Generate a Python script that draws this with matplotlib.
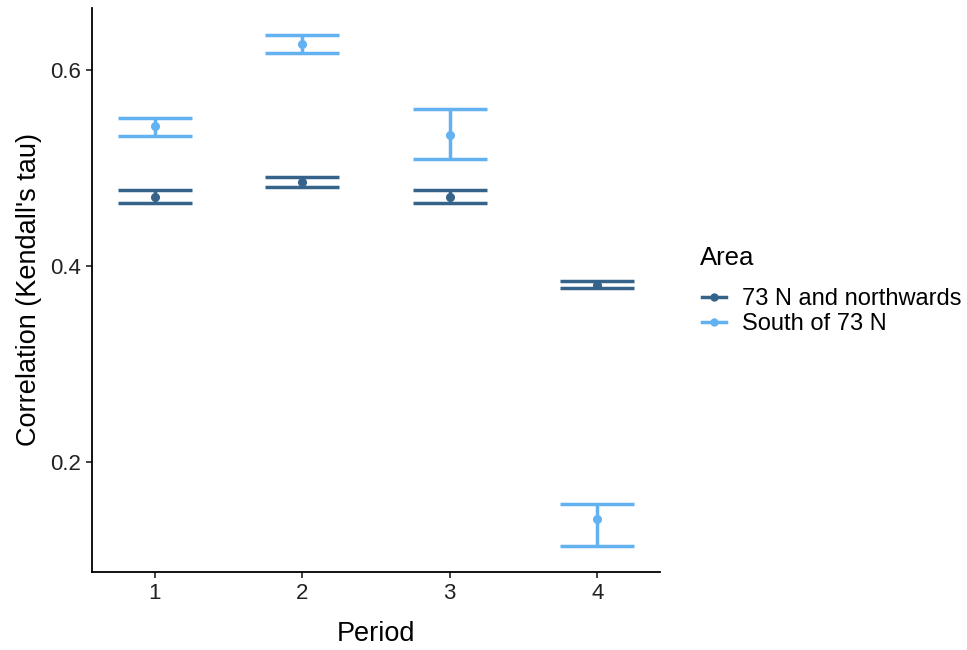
import numpy as np
import matplotlib
matplotlib.use("Agg")
import matplotlib.pyplot as plt
from matplotlib.lines import Line2D

plt.rcParams["font.family"] = ["Liberation Sans", "DejaVu Sans"]

# values
periods = [1, 2, 3, 4]
north_tau = [0.4702, 0.4857, 0.4704, 0.3809]
north_lo = [0.4642, 0.4806, 0.4640, 0.3779]
north_hi = [0.4776, 0.4912, 0.4776, 0.3844]
south_tau = [0.5429, 0.6265, 0.5334, 0.1415]
south_lo = [0.5330, 0.6173, 0.5095, 0.1143]
south_hi = [0.5513, 0.6360, 0.5599, 0.1574]

area_labels = ["73 N and northwards", "South of 73 N"]
colors = ["#36638A", "#62B2F2"]

fig = plt.figure(figsize=(9.67, 6.5), dpi=100)
ax = fig.add_axes([92 / 967, 1 - 572 / 650, 568 / 967, 564 / 650])

half_w = 0.25
series = [(north_tau, north_lo, north_hi), (south_tau, south_lo, south_hi)]
for (tau, lo, hi), col in zip(series, colors):
    x = np.array(periods, dtype=float)
    ax.vlines(x, lo, hi, color=col, lw=2.5)
    ax.hlines(lo, x - half_w, x + half_w, color=col, lw=2.5)
    ax.hlines(hi, x - half_w, x + half_w, color=col, lw=2.5)
    ax.plot(x, tau, "o", color=col, ms=5.5, zorder=3)

ax.set_xlim(0.575, 4.425)
ax.set_ylim(0.0878, 0.6633)
ax.set_xticks(periods)
ax.set_yticks([0.2, 0.4, 0.6])
ax.set_yticklabels(["0.2", "0.4", "0.6"])

for s in ["top", "right"]:
    ax.spines[s].set_visible(False)
for s in ["left", "bottom"]:
    ax.spines[s].set_linewidth(1.3)
ax.tick_params(axis="both", length=4, width=1.2, labelsize=16, colors="#222222", pad=4)

ax.set_xlabel("Period", fontsize=19.5, labelpad=12)
ax.set_ylabel("Correlation (Kendall's tau)", fontsize=19.5, labelpad=6)

# legend: title drawn separately to get ggplot-like spacing
fig.text(700 / 967, 1 - 258 / 650, "Area", fontsize=18.5, va="center", ha="left")
handles = [Line2D([0], [0], color=c, lw=2.5, marker="o", ms=5) for c in colors]
leg = fig.legend(handles, area_labels, loc="upper left",
                 bbox_to_anchor=(702 / 967, 1 - 288 / 650), frameon=False,
                 fontsize=17, handlelength=1.0, handletextpad=0.68,
                 labelspacing=0.12, borderaxespad=0, borderpad=0)

fig.savefig("out.png", dpi=100)
